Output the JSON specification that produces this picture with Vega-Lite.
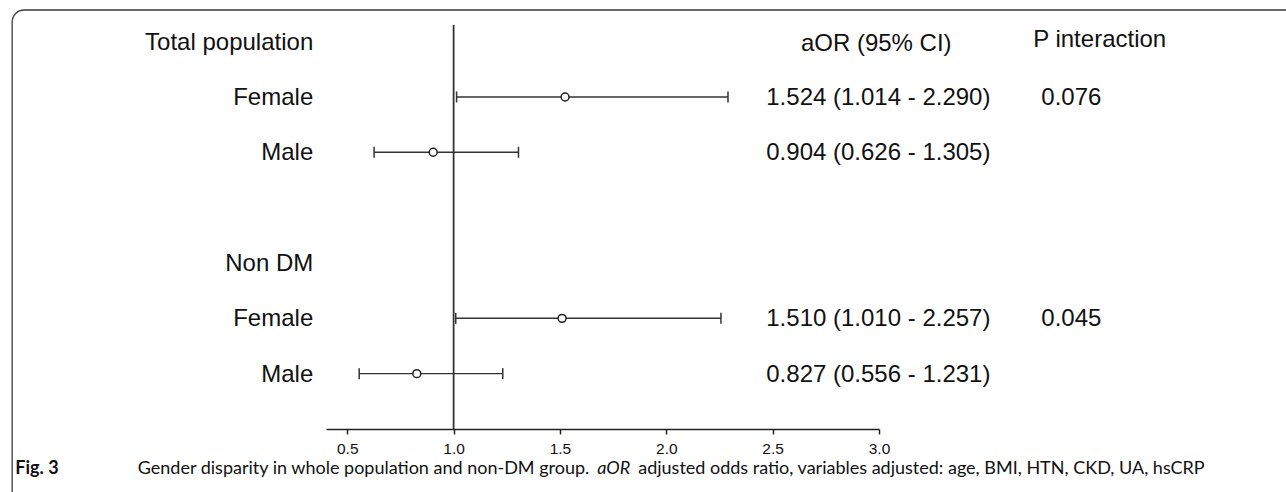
{
  "$schema": "https://vega.github.io/schema/vega-lite/v6.json",
  "autosize": {"type": "none"},
  "width": 553,
  "height": 404,
  "padding": {"left": 326, "top": 25, "right": 407, "bottom": 63},
  "background": "white",
  "config": {"view": {"stroke": null}},
  "data": {"values": [
    {"row": 0, "label": "Total population"},
    {"row": 1, "label": "Female", "or": 1.524, "lo": 1.014, "hi": 2.290, "ci": "1.524 (1.014 - 2.290)", "p": "0.076"},
    {"row": 2, "label": "Male", "or": 0.904, "lo": 0.626, "hi": 1.305, "ci": "0.904 (0.626 - 1.305)", "p": ""},
    {"row": 4, "label": "Non DM"},
    {"row": 5, "label": "Female", "or": 1.510, "lo": 1.010, "hi": 2.257, "ci": "1.510 (1.010 - 2.257)", "p": "0.045"},
    {"row": 6, "label": "Male", "or": 0.827, "lo": 0.556, "hi": 1.231, "ci": "0.827 (0.556 - 1.231)", "p": ""}
  ]},
  "layer": [
    {
      "transform": [{"filter": "isValid(datum.or)"}],
      "mark": {"type": "rule", "stroke": "#333", "strokeWidth": 1.4},
      "encoding": {
        "x": {"field": "lo", "type": "quantitative", "scale": {"domain": [0.4, 3.0], "nice": false, "zero": false},
          "axis": {"title": null, "values": [0.5, 1.0, 1.5, 2.0, 2.5, 3.0], "format": ".1f", "grid": false, "labelFlush": false,
            "domainColor": "#222", "domainWidth": 1.5, "tickColor": "#222", "tickWidth": 1.5, "tickSize": 5,
            "labelFont": "Liberation Sans", "labelFontSize": 15.5, "labelColor": "#111", "labelPadding": 7}},
        "x2": {"field": "hi"},
        "y": {"field": "row", "type": "quantitative", "scale": {"domain": [-0.3, 7], "reverse": true, "nice": false, "zero": false}, "axis": null}
      }
    },
    {
      "transform": [{"filter": "datum.row == 0"}],
      "mark": {"type": "rect", "fill": "white", "fillOpacity": 0, "stroke": "#3a3a3a", "strokeWidth": 1.3, "cornerRadius": 12},
      "encoding": {
        "x": {"datum": -1.0756, "type": "quantitative"},
        "x2": {"datum": 10},
        "y": {"datum": -0.571, "type": "quantitative"},
        "y2": {"datum": 9}
      }
    },
    {
      "transform": [{"filter": "datum.row == 0"}],
      "mark": {"type": "rule", "stroke": "#333", "strokeWidth": 1.8},
      "encoding": {"x": {"datum": 1.0, "type": "quantitative"}}
    },
    {
      "transform": [{"filter": "isValid(datum.or)"}],
      "mark": {"type": "tick", "orient": "vertical", "color": "#333", "size": 11, "thickness": 1.5, "opacity": 1},
      "encoding": {"x": {"field": "lo", "type": "quantitative"}, "y": {"field": "row", "type": "quantitative"}}
    },
    {
      "transform": [{"filter": "isValid(datum.or)"}],
      "mark": {"type": "tick", "orient": "vertical", "color": "#333", "size": 11, "thickness": 1.5, "opacity": 1},
      "encoding": {"x": {"field": "hi", "type": "quantitative"}, "y": {"field": "row", "type": "quantitative"}}
    },
    {
      "transform": [{"filter": "isValid(datum.or)"}],
      "mark": {"type": "point", "shape": "circle", "filled": true, "fill": "white", "stroke": "#222", "strokeWidth": 1.5, "size": 62, "opacity": 1},
      "encoding": {"x": {"field": "or", "type": "quantitative"}, "y": {"field": "row", "type": "quantitative"}}
    },
    {
      "mark": {"type": "text", "align": "right", "baseline": "middle", "dy": 1, "font": "Liberation Sans", "fontSize": 24, "color": "#111"},
      "encoding": {"x": {"datum": 0.34, "type": "quantitative"}, "y": {"field": "row", "type": "quantitative"}, "text": {"field": "label"}}
    },
    {
      "transform": [{"filter": "isValid(datum.or)"}],
      "mark": {"type": "text", "align": "left", "baseline": "middle", "dy": 1, "font": "Liberation Sans", "fontSize": 24, "color": "#111"},
      "encoding": {"x": {"datum": 2.47, "type": "quantitative"}, "y": {"field": "row", "type": "quantitative"}, "text": {"field": "ci"}}
    },
    {
      "transform": [{"filter": "isValid(datum.or)"}],
      "mark": {"type": "text", "align": "left", "baseline": "middle", "dy": 1, "font": "Liberation Sans", "fontSize": 24, "color": "#111"},
      "encoding": {"x": {"datum": 3.763, "type": "quantitative"}, "y": {"field": "row", "type": "quantitative"}, "text": {"field": "p"}}
    },
    {
      "transform": [{"filter": "datum.row == 0"}],
      "mark": {"type": "text", "align": "center", "baseline": "middle", "dy": 2, "font": "Liberation Sans", "fontSize": 24, "color": "#111", "text": "aOR (95% CI)"},
      "encoding": {"x": {"datum": 2.987, "type": "quantitative"}, "y": {"datum": 0, "type": "quantitative"}}
    },
    {
      "transform": [{"filter": "datum.row == 0"}],
      "mark": {"type": "text", "align": "left", "baseline": "middle", "dy": -2, "font": "Liberation Sans", "fontSize": 24, "color": "#111", "text": "P interaction"},
      "encoding": {"x": {"datum": 3.725, "type": "quantitative"}, "y": {"datum": 0, "type": "quantitative"}}
    },
    {
      "transform": [{"filter": "datum.row == 0"}],
      "mark": {"type": "text", "align": "left", "baseline": "alphabetic", "font": "Lato", "fontSize": 18, "fontWeight": "bold", "color": "#111", "text": "Fig. 3"},
      "encoding": {"x": {"datum": -1.061, "type": "quantitative"}, "y": {"datum": 7.813, "type": "quantitative"}}
    },
    {
      "transform": [{"filter": "datum.row == 0"}],
      "mark": {"type": "text", "align": "right", "baseline": "alphabetic", "font": "Lato", "fontSize": 18, "color": "#111", "text": "Gender disparity in whole population and non-DM group."},
      "encoding": {"x": {"datum": 1.638, "type": "quantitative"}, "y": {"datum": 7.813, "type": "quantitative"}}
    },
    {
      "transform": [{"filter": "datum.row == 0"}],
      "mark": {"type": "text", "align": "left", "baseline": "alphabetic", "font": "Lato", "fontSize": 18, "fontStyle": "italic", "color": "#111", "text": "aOR"},
      "encoding": {"x": {"datum": 1.6755, "type": "quantitative"}, "y": {"datum": 7.813, "type": "quantitative"}}
    },
    {
      "transform": [{"filter": "datum.row == 0"}],
      "mark": {"type": "text", "align": "left", "baseline": "alphabetic", "font": "Lato", "fontSize": 18, "color": "#111", "text": "adjusted odds ratio, variables adjusted: age, BMI, HTN, CKD, UA, hsCRP"},
      "encoding": {"x": {"datum": 1.868, "type": "quantitative"}, "y": {"datum": 7.813, "type": "quantitative"}}
    }
  ]
}
